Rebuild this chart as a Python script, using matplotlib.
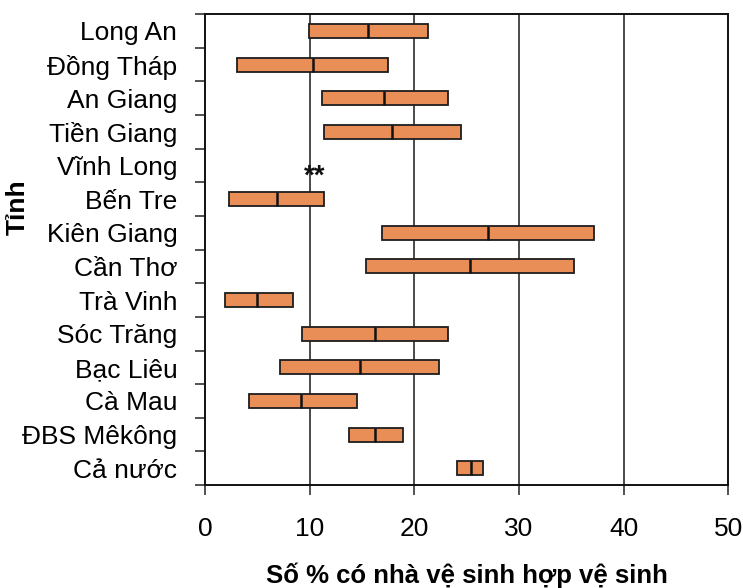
import numpy as np
import matplotlib
matplotlib.use("Agg")
import matplotlib.pyplot as plt
from matplotlib.ticker import FixedLocator

plt.rcParams['font.family'] = ['Liberation Sans', 'DejaVu Sans']

provinces = ["Long An", "Đồng Tháp", "An Giang", "Tiền Giang", "Vĩnh Long",
             "Bến Tre", "Kiên Giang", "Cần Thơ", "Trà Vinh", "Sóc Trăng",
             "Bạc Liêu", "Cà Mau", "ĐBS Mêkông", "Cả nước"]
low = [9.9, 3.1, 11.15, 11.4, np.nan, 2.3, 16.9, 15.4, 1.9, 9.25,
       7.15, 4.2, 13.75, 24.1]
median = [15.6, 10.35, 17.1, 17.9, np.nan, 6.9, 27.05, 25.35, 5.0, 16.25,
          14.8, 9.2, 16.25, 25.4]
high = [21.3, 17.5, 23.2, 24.5, np.nan, 11.4, 37.15, 35.3, 8.45, 23.2,
        22.4, 14.55, 18.95, 26.6]
notes = {"Vĩnh Long": (10.47, "**")}
x_ticks = [0, 10, 20, 30, 40, 50]

fig = plt.figure(figsize=(7.43, 5.88), dpi=100)
ax = fig.add_axes([0.276, 0.175, 0.704, 0.801])

pos = np.arange(len(provinces))
low_a = np.array(low, dtype=float)
med_a = np.array(median, dtype=float)
high_a = np.array(high, dtype=float)
ok = ~np.isnan(low_a)

bar_h = 0.42
ax.barh(pos[ok], high_a[ok] - low_a[ok], left=low_a[ok], height=bar_h,
        color='#EA8E58', edgecolor='#1e1e1e', linewidth=1.3, zorder=3)
ax.vlines(med_a[ok], pos[ok] - bar_h / 2, pos[ok] + bar_h / 2,
          color='#111111', linewidth=1.8, zorder=4)

for name, (xv, txt) in notes.items():
    i = provinces.index(name)
    ax.text(xv, i + 0.33, txt, ha='center', va='center', fontsize=20,
            fontweight='bold', color='#111111', zorder=5)

ax.set_xlim(0, 50)
ax.set_ylim(len(provinces) - 0.5, -0.5)

# vertical reference lines
for xv in x_ticks[1:-1]:
    ax.axvline(xv, color='#4a4a4a', linewidth=1.4, zorder=1)

ax.set_xticks(x_ticks)
ax.set_xticklabels([str(v) for v in x_ticks], fontsize=19)
ax.tick_params(axis='x', direction='out', length=7, width=1.2,
               color='#333333', pad=16)

ax.set_yticks(pos)
ax.set_yticklabels(provinces, fontsize=19)
ax.tick_params(axis='y', which='major', length=0, pad=20)
ax.yaxis.set_minor_locator(FixedLocator(np.arange(-0.5, len(provinces), 1.0)))
ax.tick_params(axis='y', which='minor', direction='out', length=7,
               width=1.2, color='#333333')

for sp in ax.spines.values():
    sp.set_color('#111111')
    sp.set_linewidth(1.4)

ax.set_xlabel("Số % có nhà vệ sinh hợp vệ sinh", fontsize=18.5,
              fontweight='bold')
ax.xaxis.set_label_coords(0.5, -0.165)
ax.set_ylabel("Tỉnh", fontsize=19, fontweight='bold')
ax.yaxis.set_label_coords(-0.335, 0.59)

fig.savefig("out.png", dpi=100)
